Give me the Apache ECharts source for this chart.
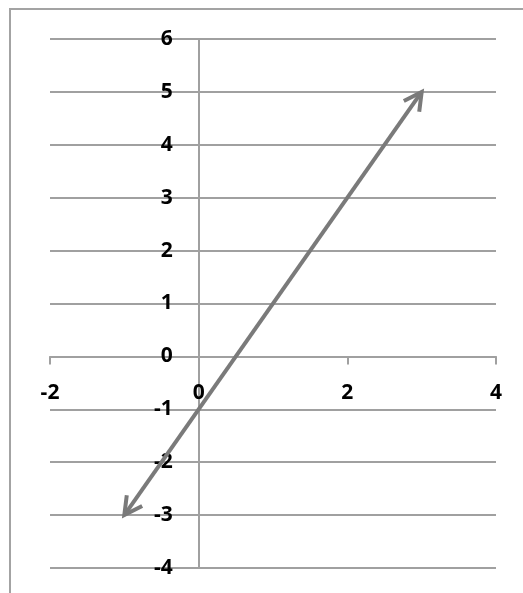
<!DOCTYPE html>
<html>
<head>
<meta charset="utf-8">
<script src="https://cdn.jsdelivr.net/npm/echarts@6/dist/echarts.min.js"></script>
<style>
  html, body { margin: 0; padding: 0; background: #fff; }
  #wrap { position: relative; width: 523px; height: 593px; overflow: hidden; }
  #frame { position: absolute; left: 9px; top: 8px; width: 600px; height: 700px;
           border-left: 2px solid #a3a3a3; border-top: 2px solid #a3a3a3; }
  #main { position: absolute; left: 0; top: 0; width: 523px; height: 593px; }
</style>
</head>
<body>
<div id="wrap">
  <div id="frame"></div>
  <div id="main"></div>
</div>
<script>
// axis ranges and steps
var xRange = [-2, 4];
var xStep = 2;
var yRange = [-4, 6];
var yStep = 1;

// the line y = 2x - 1, drawn with arrow heads at both ends
var lineFrom = [-1, -3];
var lineTo = [3, 5];

var gridColor = '#a0a0a0';
var lineColor = '#7a7a7a';
var labelFont = { color: '#000', fontFamily: 'Open Sans', fontWeight: 'bold', fontSize: 21 };

function arrowHead(tip, back, len, ang) {
    var dx = back[0] - tip[0], dy = back[1] - tip[1];
    var d = Math.sqrt(dx * dx + dy * dy);
    var ux = dx / d, uy = dy / d;
    var c = Math.cos(ang), s = Math.sin(ang);
    var a1 = [tip[0] + len * (ux * c - uy * s), tip[1] + len * (ux * s + uy * c)];
    var a2 = [tip[0] + len * (ux * c + uy * s), tip[1] + len * (-ux * s + uy * c)];
    return [a1, tip, a2];
}

var option = {
    backgroundColor: 'transparent',
    animation: false,
    grid: {
        left: 50,
        right: 27,
        top: 39,
        bottom: 25,
        outerBoundsMode: 'none'
    },
    xAxis: {
        type: 'value',
        min: xRange[0],
        max: xRange[1],
        interval: xStep,
        axisLine: { onZero: false, lineStyle: { color: gridColor, width: 2 } },
        axisTick: { show: true, length: 8, lineStyle: { color: gridColor, width: 2 } },
        splitLine: { show: false },
        axisLabel: Object.assign({ margin: 26 }, labelFont)
    },
    yAxis: {
        type: 'value',
        min: yRange[0],
        max: yRange[1],
        interval: yStep,
        axisLine: { onZero: false, lineStyle: { color: gridColor, width: 2 } },
        axisTick: { show: false },
        splitLine: { show: true, lineStyle: { color: gridColor, width: 2 } },
        axisLabel: Object.assign({ margin: 26 }, labelFont)
    },
    series: [{
        type: 'custom',
        encode: { x: [0, 2], y: [1, 3] },
        data: [[lineFrom[0], lineFrom[1], lineTo[0], lineTo[1]]],
        renderItem: function (params, api) {
            var p1 = api.coord([api.value(0), api.value(1)]);
            var p2 = api.coord([api.value(2), api.value(3)]);
            var style = { stroke: lineColor, lineWidth: 4, fill: null, lineJoin: 'miter' };
            return {
                type: 'group',
                children: [
                    { type: 'line', shape: { x1: p1[0], y1: p1[1], x2: p2[0], y2: p2[1] }, style: style },
                    { type: 'polyline', shape: { points: arrowHead(p2, p1, 20, 0.49) }, style: style },
                    { type: 'polyline', shape: { points: arrowHead(p1, p2, 20, 0.49) }, style: style }
                ]
            };
        }
    }]
};

var myChart = echarts.init(document.getElementById('main'));
myChart.setOption(option);

// move both axes (line + labels) onto the zero crossing
var origin = myChart.convertToPixel({ gridIndex: 0 }, [0, 0]);
var leftEdge = myChart.convertToPixel({ gridIndex: 0 }, [xRange[0], yRange[0]]);
myChart.setOption({
    xAxis: { offset: -(leftEdge[1] - origin[1]) },
    yAxis: { offset: -(origin[0] - leftEdge[0]) }
});
</script>
</body>
</html>
